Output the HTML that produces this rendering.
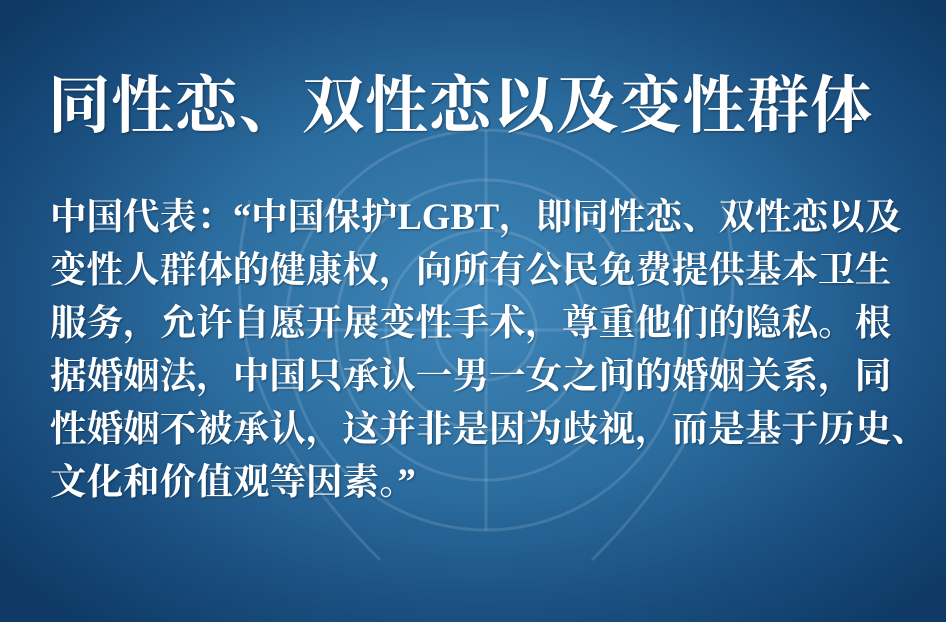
<!DOCTYPE html>
<html><head><meta charset="utf-8">
<style>
html,body{margin:0;padding:0;}
body{width:946px;height:622px;overflow:hidden;position:relative;
background:radial-gradient(ellipse 620px 420px at 480px 300px,#3f86b8 0%,#2c6d9f 45%,#1a4f80 75%,#0f3a66 100%);
font-family:"Liberation Serif","Noto Serif CJK SC",serif;color:#fff;}
.emblem{position:absolute;left:0;top:0;}
.title{position:absolute;left:48px;top:70px;font-size:62.5px;font-weight:bold;letter-spacing:1px;white-space:nowrap;line-height:72px;text-shadow:1px 1px 2px rgba(0,0,0,.4);}
.body{position:absolute;left:50px;top:190px;font-size:36.6px;font-weight:bold;line-height:53px;white-space:nowrap;text-shadow:1px 1px 2px rgba(0,0,0,.35);}
</style></head><body>
<svg class="emblem" width="946" height="622">
<g fill="none" stroke="rgba(255,255,255,0.13)" stroke-width="3">
<circle cx="486" cy="330" r="200"/>
<circle cx="486" cy="330" r="150"/>
<circle cx="486" cy="330" r="100"/>
<circle cx="486" cy="330" r="50"/>
<line x1="486" y1="130" x2="486" y2="530"/>
<line x1="286" y1="330" x2="686" y2="330"/>
<path d="M250 200 Q200 380 380 560"/>
<path d="M722 200 Q772 380 592 560"/>
</g>
</svg>
<div class="title">同性恋、双性恋以及变性群体</div>
<div class="body">中国代表：“中国保护LGBT，即同性恋、双性恋以及<br>变性人群体的健康权，向所有公民免费提供基本卫生<br>服务，允许自愿开展变性手术，尊重他们的隐私。根<br>据婚姻法，中国只承认一男一女之间的婚姻关系，同<br>性婚姻不被承认，这并非是因为歧视，而是基于历史、<br>文化和价值观等因素。”</div>
</body></html>
